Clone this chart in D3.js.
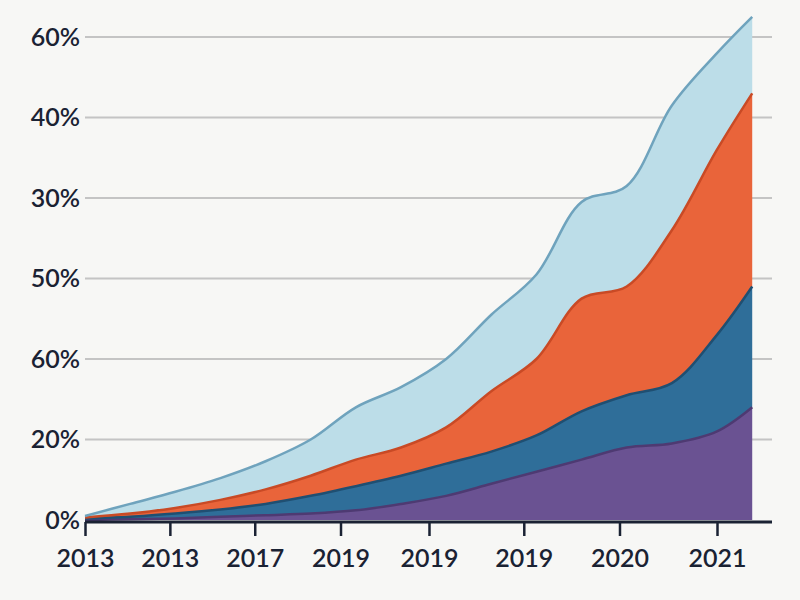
<!DOCTYPE html><html><head><meta charset="utf-8"><script src="https://cdn.jsdelivr.net/npm/d3@7"></script>
<style>body{margin:0;background:#f7f7f5}</style></head><body><svg id="c" width="800" height="600"></svg><script>
const xTickLabels=["2013","2013","2017","2019","2019","2019","2020","2021"];
const xTickPos=[0,0.94,1.88,2.83,3.81,4.86,5.92,7];
const yTickLabels=["0%","20%","60%","50%","30%","40%","60%"];
const xs=[0,0.5,1,1.5,2,2.5,3,3.5,4,4.5,5,5.5,6,6.5,7,7.39];
const purple=[0,0.01,0.02,0.04,0.06,0.08,0.12,0.2,0.3,0.45,0.6,0.75,0.9,0.95,1.1,1.4];
const blue=[0.02,0.03,0.06,0.09,0.14,0.22,0.3,0.35,0.4,0.4,0.45,0.6,0.65,0.75,1.2,1.5];
const orange=[0.01,0.04,0.07,0.12,0.18,0.25,0.33,0.35,0.45,0.75,0.95,1.4,1.35,1.9,2.3,2.4];
const lightblue=[0.02,0.12,0.2,0.27,0.35,0.45,0.65,0.75,0.85,0.95,1.05,1.2,1.25,1.55,1.2,0.95];
const colors=["#6a5292","#2f6e99","#e9643a","#bcdde8"];
const strokes=["#4e3a72","#1f4f72","#c94a25","#6fa3bd"];
const svg=d3.select("#c");
const x=d3.scaleLinear().domain([0,7]).range([85,717]);
const y=d3.scaleLinear().domain([0,6]).range([520,37]);
svg.append("g").selectAll("line").data(d3.range(1,7)).join("line")
 .attr("x1",85).attr("x2",772).attr("y1",d=>y(d)).attr("y2",d=>y(d)).attr("stroke","#c4c4c4").attr("stroke-width",2);
const rows=xs.map((v,i)=>({x:v,a:purple[i],b:blue[i],c:orange[i],d:lightblue[i]}));
const st=d3.stack().keys(["a","b","c","d"])(rows);
const area=d3.area().x(d=>x(d.data.x)).y0(d=>y(d[0])).y1(d=>y(d[1])).curve(d3.curveCatmullRom);
const line=d3.line().x(d=>x(d.data.x)).y(d=>y(d[1])).curve(d3.curveCatmullRom);
svg.append("g").selectAll("path.a").data(st).join("path").attr("d",area).attr("fill",(d,i)=>colors[i]);
svg.append("g").selectAll("path.l").data(st).join("path").attr("d",line).attr("fill","none").attr("stroke",(d,i)=>strokes[i]).attr("stroke-width",2.5);
svg.append("line").attr("x1",85).attr("x2",772).attr("y1",522).attr("y2",522).attr("stroke","#1a2233").attr("stroke-width",3);
const xa=svg.append("g").attr("transform","translate(0,522)").call(d3.axisBottom(x).tickValues(xTickPos).tickFormat((d,i)=>xTickLabels[i]).tickSize(14));
xa.select(".domain").remove();
xa.selectAll("line").attr("stroke","#1a2233").attr("stroke-width",2.5);
xa.selectAll("text").attr("font-family","Lato").attr("font-size",25).attr("font-weight",600).attr("fill","#1a2233").attr("dy","1.1em");
const ya=svg.append("g").attr("transform","translate(82,0)").call(d3.axisLeft(y).tickValues(d3.range(7)).tickFormat((d,i)=>yTickLabels[i]).tickSize(0));
ya.select(".domain").remove();
ya.selectAll("text").attr("font-family","Lato").attr("font-size",25).attr("font-weight",600).attr("fill","#1a2233").attr("x",-2);
</script></body></html>
